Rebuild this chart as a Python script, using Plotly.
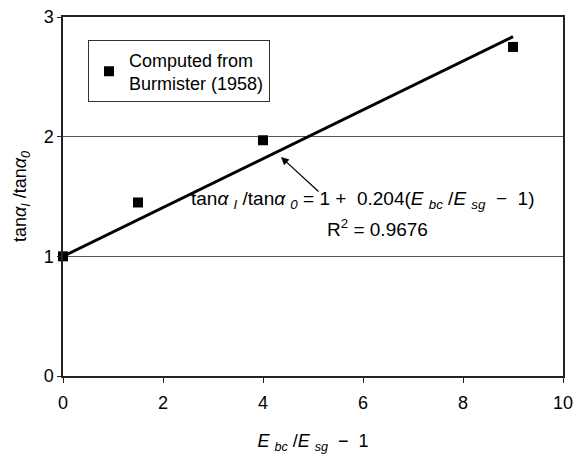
import plotly.graph_objects as go

# Computed ratios tan(alpha_I)/tan(alpha_0) versus modular ratio (E_bc/E_sg - 1)
modular_ratio = [0, 1.5, 4, 9]
tan_ratio = [1.0, 1.45, 1.97, 2.75]

# Linear trendline: y = 1 + 0.204 x, R^2 = 0.9676
fit_intercept = 1.0
fit_slope = 0.204
fit_r2 = 0.9676
fit_x = [0, 9]
fit_y = [fit_intercept + fit_slope * v for v in fit_x]

x_ticks = [0, 2, 4, 6, 8, 10]
y_ticks = [0, 1, 2, 3]

FONT = "Liberation Sans, Arial, sans-serif"

fig = go.Figure()

fig.add_trace(go.Scatter(
    x=fit_x, y=fit_y, mode="lines",
    line=dict(color="black", width=3),
    showlegend=False, hoverinfo="skip",
))

fig.add_trace(go.Scatter(
    x=modular_ratio, y=tan_ratio, mode="markers",
    marker=dict(symbol="square", size=10, color="black"),
    name="Computed from<br>Burmister (1958)",
    cliponaxis=False,
))

eq_text = ("tan<i>α</i> <sub><i>I</i></sub> /tan<i>α</i> <sub><i>0</i></sub> = 1 +  "
           f"{fit_slope:.3f}(<i>E</i> <sub><i>bc</i></sub> /<i>E</i> <sub><i>sg</i></sub>  −  1)")

fig.add_annotation(
    x=6.0, y=1.47, xref="x", yref="y", text=eq_text, showarrow=False,
    font=dict(family=FONT, size=19, color="black"),
)
fig.add_annotation(
    x=6.28, y=1.24, xref="x", yref="y", text=f"R<sup>2</sup> = {fit_r2}",
    showarrow=False, font=dict(family=FONT, size=19, color="black"),
)
# Pointer from the equation to the fitted line
fig.add_annotation(
    x=4.36, y=1.83, xref="x", yref="y",
    ax=5.14, ay=1.53, axref="x", ayref="y",
    text="", showarrow=True, arrowhead=2, arrowsize=1.3, arrowwidth=1.2,
    arrowcolor="black",
)

fig.update_layout(
    width=574, height=455,
    margin=dict(l=63, r=11, t=17, b=79, autoexpand=False),
    paper_bgcolor="white", plot_bgcolor="white",
    font=dict(family=FONT, size=18, color="black"),
    legend=dict(
        x=0.05, y=0.935, xanchor="left", yanchor="top",
        bgcolor="white", bordercolor="#333", borderwidth=1,
        font=dict(family=FONT, size=18, color="black"),
        itemwidth=30, tracegroupgap=0,
    ),
    xaxis=dict(
        range=[0, 10], tickvals=x_ticks, showgrid=False, zeroline=False,
        showline=True, linecolor="#222", linewidth=1.5, mirror=True,
        ticks="outside", ticklen=5, tickcolor="#222",
        ticklabelstandoff=5, automargin=False,
        title=dict(text="<i>E</i> <sub><i>bc</i></sub> /<i>E</i> <sub><i>sg</i></sub>  −  1",
                   font=dict(family=FONT, size=18), standoff=22),
    ),
    yaxis=dict(
        range=[0, 3], tickvals=y_ticks, showgrid=True, gridcolor="#555",
        gridwidth=1, zeroline=False, automargin=False,
        showline=True, linecolor="#222", linewidth=1.5, mirror=True,
        ticks="outside", ticklen=4, tickcolor="#222",
        title=dict(text="tan<i>α</i><sub><i>I</i></sub> /tan<i>α</i><sub><i>0</i></sub>",
                   font=dict(family=FONT, size=18), standoff=12),
    ),
)

fig.write_html("out.html")
